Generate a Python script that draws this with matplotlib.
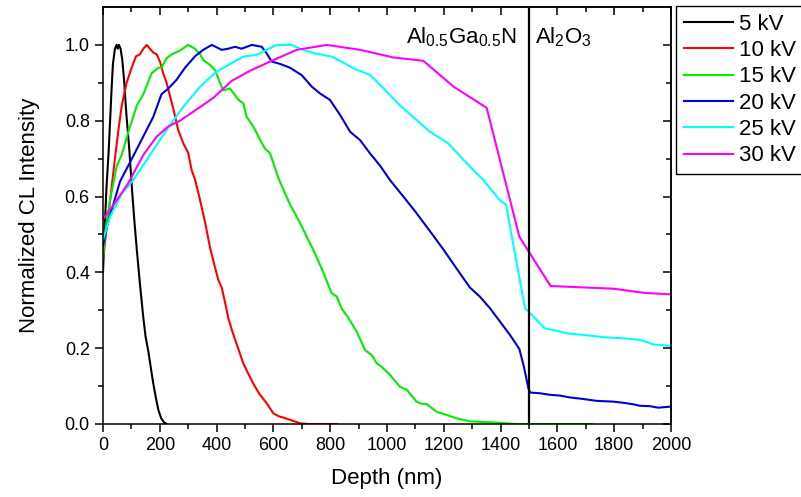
import matplotlib
matplotlib.use("Agg")
import matplotlib.pyplot as plt
import numpy as np

plt.rcParams['font.family'] = ['Liberation Sans', 'DejaVu Sans']
plt.rcParams['mathtext.default'] = 'regular'

# Depth (nm) and normalized CL intensity for each beam energy
depth_5kv = [0, 5, 12, 20, 25, 30, 35, 42, 48, 52, 56, 62, 68, 75, 82, 92, 101, 110,
             119, 130, 142, 150, 160, 168, 177, 186, 195, 205, 215, 225]
cl_5kv = [0.40, 0.50, 0.62, 0.72, 0.80, 0.88, 0.95, 0.99, 1.0, 0.99, 1.0, 0.99, 0.96,
          0.90, 0.82, 0.73, 0.63, 0.54, 0.46, 0.37, 0.28, 0.23, 0.19, 0.15, 0.107,
          0.07, 0.037, 0.015, 0.004, 0.0]

depth_10kv = [0, 10, 25, 42, 55, 66, 83, 101, 116, 130, 142, 154, 165, 177, 189, 201,
              212, 224, 236, 248, 265, 283, 300, 312, 324, 342, 360, 377, 392, 406,
              418, 430, 441, 455, 471, 494, 510, 529, 550, 576, 600, 620, 635, 670,
              694, 720, 823]
cl_10kv = [0.43, 0.50, 0.59, 0.70, 0.78, 0.84, 0.90, 0.94, 0.97, 0.975, 0.99, 1.0,
           0.99, 0.98, 0.975, 0.955, 0.925, 0.90, 0.865, 0.83, 0.775, 0.74, 0.715,
           0.67, 0.645, 0.59, 0.53, 0.465, 0.42, 0.38, 0.36, 0.32, 0.28, 0.245, 0.21,
           0.16, 0.135, 0.107, 0.08, 0.055, 0.028, 0.02, 0.017, 0.008, 0.002, 0.0, 0.0]

depth_15kv = [0, 10, 25, 48, 66, 89, 119, 142, 171, 195, 206, 224, 242, 271, 300, 324,
              342, 353, 377, 394, 412, 424, 447, 459, 477, 494, 506, 529, 553, 570,
              588, 600, 617, 640, 658, 694, 720, 740, 770, 805, 823, 840, 864, 893,
              923, 946, 964, 981, 1011, 1046, 1070, 1104, 1122, 1139, 1175, 1210,
              1245, 1292, 1350, 1400, 1450, 1722]
cl_15kv = [0.44, 0.52, 0.59, 0.68, 0.71, 0.77, 0.84, 0.87, 0.925, 0.94, 0.94, 0.965,
           0.975, 0.985, 1.0, 0.99, 0.975, 0.96, 0.947, 0.934, 0.90, 0.88, 0.885,
           0.873, 0.855, 0.846, 0.81, 0.785, 0.75, 0.727, 0.714, 0.688, 0.65, 0.61,
           0.58, 0.53, 0.49, 0.46, 0.41, 0.345, 0.336, 0.305, 0.28, 0.244, 0.195,
           0.182, 0.16, 0.151, 0.129, 0.098, 0.09, 0.059, 0.053, 0.053, 0.032,
           0.024, 0.015, 0.007, 0.005, 0.003, 0.0, 0.0]

depth_20kv = [0, 10, 25, 60, 95, 136, 177, 206, 230, 259, 289, 324, 353, 383, 418,
              441, 465, 488, 524, 559, 576, 594, 623, 658, 700, 735, 764, 799, 835,
              870, 905, 940, 975, 1011, 1063, 1100, 1150, 1199, 1245, 1292, 1327,
              1363, 1398, 1433, 1466, 1482, 1498, 1504, 1539, 1574, 1609, 1644, 1691,
              1738, 1797, 1832, 1867, 1891, 1926, 1955, 2000]
cl_20kv = [0.47, 0.51, 0.55, 0.64, 0.69, 0.75, 0.81, 0.87, 0.885, 0.908, 0.94, 0.97,
           0.987, 1.0, 0.987, 0.99, 0.995, 0.99, 1.0, 0.995, 0.978, 0.956, 0.95,
           0.94, 0.92, 0.89, 0.872, 0.855, 0.815, 0.771, 0.749, 0.714, 0.682, 0.643,
           0.595, 0.56, 0.51, 0.46, 0.41, 0.36, 0.336, 0.305, 0.27, 0.235, 0.198,
           0.151, 0.094, 0.083, 0.081, 0.077, 0.075, 0.07, 0.066, 0.061, 0.059,
           0.056, 0.052, 0.048, 0.047, 0.043, 0.046]

depth_25kv = [0, 25, 66, 107, 154, 224, 283, 342, 400, 453, 494, 541, 576, 611, 664,
              705, 746, 805, 840, 882, 940, 987, 1046, 1104, 1151, 1216, 1269, 1292,
              1339, 1398, 1419, 1486, 1504, 1556, 1586, 1633, 1691, 1762, 1832, 1891,
              1938, 2000]
cl_25kv = [0.486, 0.547, 0.608, 0.644, 0.697, 0.776, 0.837, 0.89, 0.93, 0.952, 0.969,
           0.974, 0.987, 1.0, 1.0, 0.987, 0.978, 0.969, 0.956, 0.938, 0.921, 0.886,
           0.84, 0.802, 0.771, 0.74, 0.697, 0.679, 0.644, 0.59, 0.578, 0.305, 0.292,
           0.252, 0.248, 0.239, 0.235, 0.229, 0.226, 0.222, 0.21, 0.206]

depth_30kv = [0, 48, 89, 142, 189, 230, 271, 330, 388, 453, 518, 600, 682, 788, 905,
              1022, 1128, 1234, 1351, 1466, 1576, 1668, 1797, 1903, 2000]
cl_30kv = [0.54, 0.59, 0.635, 0.71, 0.758, 0.785, 0.80, 0.83, 0.86, 0.905, 0.932,
           0.96, 0.987, 1.0, 0.987, 0.967, 0.958, 0.89, 0.834, 0.494, 0.364, 0.361,
           0.357, 0.346, 0.342]

labels = ['5 kV', '10 kV', '15 kV', '20 kV', '25 kV', '30 kV']
colors = ['#000000', '#ff0000', '#00ee00', '#0000dd', '#00ffff', '#ff00ff']
series = [(depth_5kv, cl_5kv), (depth_10kv, cl_10kv), (depth_15kv, cl_15kv),
          (depth_20kv, cl_20kv), (depth_25kv, cl_25kv), (depth_30kv, cl_30kv)]

interface_depth = 1500

fig = plt.figure(figsize=(8.01, 4.97), dpi=100)
ax = fig.add_axes([103 / 801, 1 - 424 / 497, (671 - 103) / 801, (424 - 7) / 497])

for (d, c), lab, col in zip(series, labels, colors):
    ax.plot(d, c, color=col, lw=1.5, label=lab)

ax.axvline(interface_depth, color='black', lw=1.6)

ax.set_xlim(0, 2000)
ax.set_ylim(0, 1.1)
ax.set_xticks(np.arange(0, 2001, 200))
ax.set_xticks(np.arange(100, 2000, 200), minor=True)
ax.set_yticks(np.arange(0, 1.01, 0.2))
ax.set_yticks(np.arange(0.1, 1.1, 0.2), minor=True)
ax.set_yticklabels([f'{v:.1f}' for v in np.arange(0, 1.01, 0.2)])

for sp in ax.spines.values():
    sp.set_linewidth(1.1)

ax.tick_params(which='major', direction='out', length=6, width=1.1, labelsize=13)
ax.tick_params(which='minor', direction='out', length=3.5, width=1.1)

top = ax.secondary_xaxis('top')
top.set_xticks(np.arange(0, 2001, 200))
top.set_xticks(np.arange(100, 2000, 200), minor=True)
top.tick_params(which='major', direction='in', length=6, width=1.1, labeltop=False)
top.tick_params(which='minor', direction='in', length=3.5, width=1.1)
top.spines['top'].set_linewidth(1.1)

right = ax.secondary_yaxis('right')
right.set_yticks(np.arange(0, 1.01, 0.2))
right.set_yticks(np.arange(0.1, 1.1, 0.2), minor=True)
right.tick_params(which='major', direction='in', length=6, width=1.1, labelright=False)
right.tick_params(which='minor', direction='in', length=3.5, width=1.1)
right.spines['right'].set_linewidth(1.1)

ax.set_xlabel('Depth (nm)', fontsize=16, labelpad=10)
ax.set_ylabel('Normalized CL Intensity', fontsize=16, labelpad=18)

ax.text(1455, 1.005, r'Al$_{0.5}$Ga$_{0.5}$N', ha='right', va='baseline', fontsize=16)
ax.text(1522, 1.005, r'Al$_{2}$O$_{3}$', ha='left', va='baseline', fontsize=16)

leg = fig.legend(loc='upper left', bbox_to_anchor=(676 / 801, 1 - 6 / 497),
                 bbox_transform=fig.transFigure, borderaxespad=0, fontsize=16,
                 frameon=True, fancybox=False, framealpha=1, edgecolor='black',
                 handlelength=2.2, handletextpad=0.3, labelspacing=0.24,
                 borderpad=0.35)
leg.get_frame().set_linewidth(1.0)

fig.savefig('out.png', dpi=100)
